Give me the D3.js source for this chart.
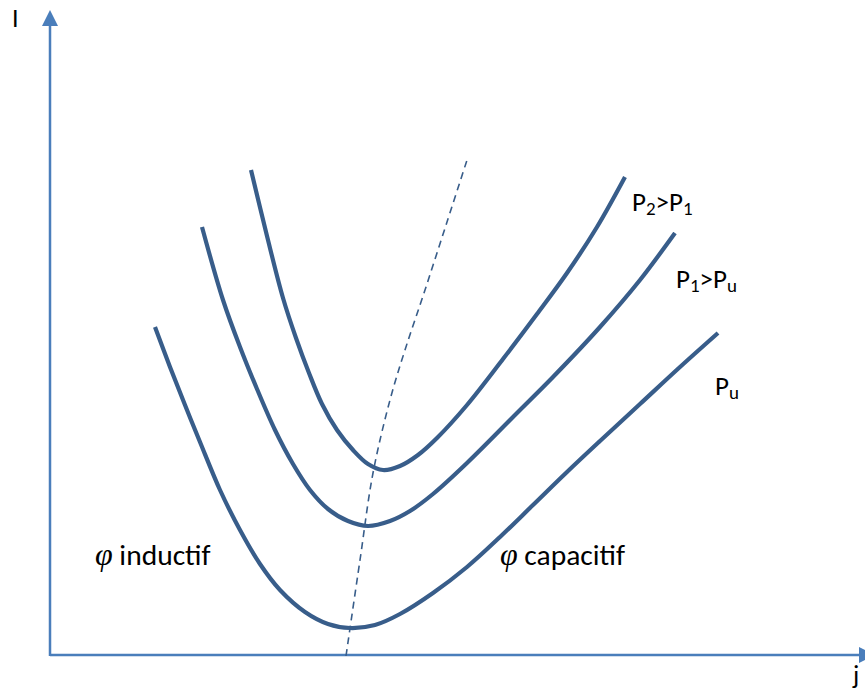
<!DOCTYPE html>
<html>
<head>
<meta charset="utf-8">
<script src="https://cdn.jsdelivr.net/npm/d3@7"></script>
<style>
  html, body { margin: 0; padding: 0; background: #ffffff; }
  svg { display: block; }
  .lbl { font-family: Carlito, Lato, "Open Sans", sans-serif; fill: #000; }
  .phi { font-family: "Liberation Serif", "DejaVu Serif", serif; font-style: italic; }
</style>
</head>
<body>
<svg id="chart" width="865" height="695"></svg>
<script>
// V-curves of a synchronous machine: armature current I versus excitation current j,
// one curve per active power level, with the unity power factor locus (dashed).

// excitation current j (arbitrary units) and current I for each curve
const jPu = [10.5, 12.0, 13.5, 15.0, 17.0, 19.0, 21.0, 23.0, 25.5, 27.8, 30.0, 32.5, 35.0, 38.3, 41.7, 45.0, 48.3, 51.7, 55.0, 59.0, 63.0, 66.8];
const iPu = [32.9, 28.9, 25.1, 21.4, 16.6, 12.6, 9.2, 6.6, 4.4, 3.2, 2.8, 3.1, 4.2, 6.3, 8.9, 11.9, 15.1, 18.4, 21.5, 25.2, 28.9, 32.3];

const jP1 = [15.2, 17.3, 19.0, 20.7, 22.5, 24.3, 26.0, 27.8, 29.8, 31.8, 34.0, 36.0, 38.3, 41.7, 46.7, 50.3, 55.0, 59.0, 62.5];
const iP1 = [42.9, 35.6, 30.9, 26.7, 22.6, 19.2, 16.6, 14.7, 13.5, 13.0, 13.5, 14.5, 16.2, 19.3, 24.3, 27.9, 32.9, 37.6, 42.3];

const jP2 = [20.1, 21.7, 23.3, 24.6, 25.9, 27.2, 28.7, 30.3, 31.8, 33.3, 35.0, 36.8, 38.7, 41.7, 45.3, 48.7, 51.7, 54.7, 57.5];
const iP2 = [48.6, 42.0, 35.8, 31.8, 28.3, 25.2, 22.6, 20.6, 19.2, 18.6, 19.0, 20.1, 21.8, 25.1, 29.7, 34.2, 38.3, 42.9, 47.9];

// locus of the curve minima (cos φ = 1)
const jLocus = [29.6, 31.0, 32.3, 34.0, 35.5, 37.5, 39.7, 41.8];
const iLocus = [0.0, 9.6, 18.3, 25.6, 30.6, 36.6, 43.4, 49.9];

const curveNames = ["Pu", "P1", "P2"];

const svg = d3.select("#chart");
const x = d3.scaleLinear().domain([0, 81]).range([50, 860]);
const y = d3.scaleLinear().domain([0, 63]).range([656, 26]);

const curveColor = "#385d8a";
const axisColor = "#4a7ebb";

// axes with arrow heads
const ax = svg.append("g");
ax.append("line")
  .attr("x1", x(0)).attr("y1", y(0) - 1)
  .attr("x2", x(81)).attr("y2", y(0) - 1)
  .attr("stroke", axisColor).attr("stroke-width", 2.5);
ax.append("line")
  .attr("x1", x(0)).attr("y1", y(0))
  .attr("x2", x(0)).attr("y2", y(63))
  .attr("stroke", axisColor).attr("stroke-width", 2.5);
ax.append("path")
  .attr("d", `M${x(0) - 8},${y(63)} L${x(0)},${y(63) - 16} L${x(0) + 8},${y(63)} Z`)
  .attr("fill", axisColor);
ax.append("path")
  .attr("d", `M${x(81) - 1},${y(0) - 9} L${x(81) + 15},${y(0) - 1} L${x(81) - 1},${y(0) + 7} Z`)
  .attr("fill", axisColor);

const line = d3.line()
  .x(d => x(d[0]))
  .y(d => y(d[1]))
  .curve(d3.curveCatmullRom.alpha(0.5));

const series = [
  d3.zip(jPu, iPu),
  d3.zip(jP1, iP1),
  d3.zip(jP2, iP2)
];

// dashed unity power factor locus
svg.append("path")
  .datum(d3.zip(jLocus, iLocus))
  .attr("d", line)
  .attr("fill", "none")
  .attr("stroke", curveColor)
  .attr("stroke-width", 1.6)
  .attr("stroke-dasharray", "7,5");

svg.selectAll("path.vcurve")
  .data(series)
  .join("path")
  .attr("class", "vcurve")
  .attr("id", (d, i) => curveNames[i])
  .attr("d", line)
  .attr("fill", "none")
  .attr("stroke", curveColor)
  .attr("stroke-width", 4.2)
  .attr("stroke-linecap", "butt");

// axis titles
svg.append("text").attr("class", "lbl")
  .attr("x", 12).attr("y", 27).attr("font-size", 26).text("I");
svg.append("text").attr("class", "lbl")
  .attr("x", 853).attr("y", 684).attr("font-size", 26).text("j");

// power level labels
function powerLabel(px, py, parts) {
  const t = svg.append("text").attr("class", "lbl")
    .attr("x", px).attr("y", py).attr("font-size", 27);
  parts.forEach(p => {
    const s = t.append("tspan").text(p.t);
    if (p.sub) {
      s.attr("font-size", 19).attr("dy", 4);
    } else if (p.back) {
      s.attr("dy", -4);
    }
  });
}
powerLabel(x(58.2), y(44.5), [
  { t: "P" }, { t: "2", sub: true }, { t: ">P", back: true }, { t: "1", sub: true }
]);
powerLabel(x(62.6), y(36.8), [
  { t: "P" }, { t: "1", sub: true }, { t: ">P", back: true }, { t: "u", sub: true }
]);
powerLabel(x(66.5), y(26.1), [
  { t: "P" }, { t: "u", sub: true }
]);

// power factor region labels
function regionLabel(px, py, word) {
  const t = svg.append("text").attr("class", "lbl")
    .attr("x", px).attr("y", py).attr("font-size", 29.5);
  t.append("tspan").attr("class", "phi").attr("font-size", 32).text("φ");
  t.append("tspan").text(" " + word);
}
regionLabel(x(4.5), y(9.1), "inductif");
regionLabel(x(45.0), y(9.1), "capacitif");
</script>
</body>
</html>
